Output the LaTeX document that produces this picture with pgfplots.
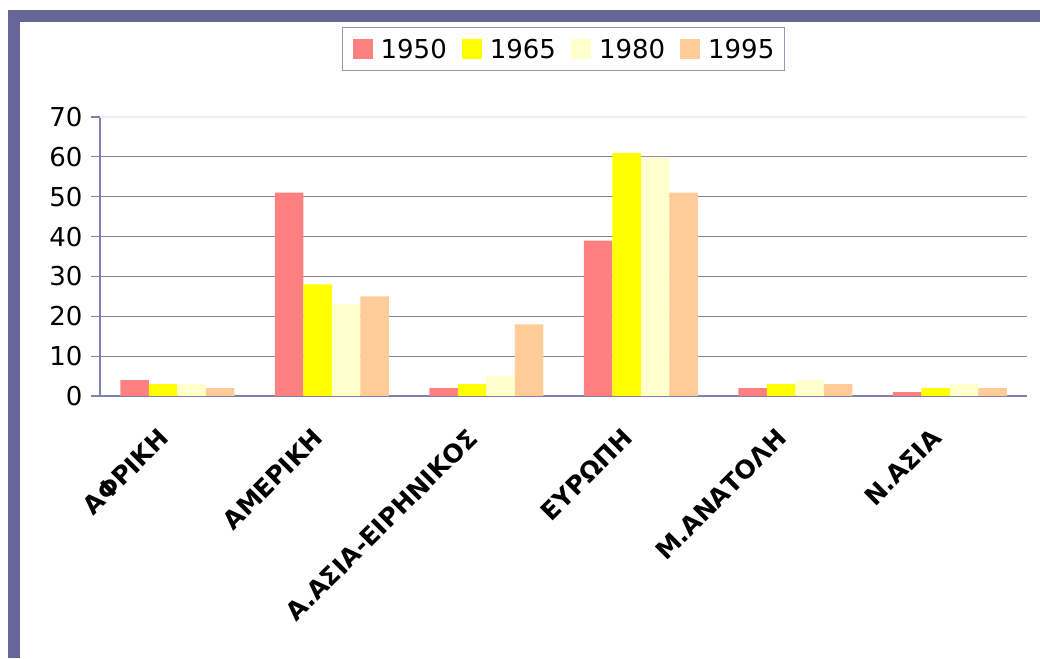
\documentclass[border=0pt]{standalone}
\usepackage{pgfplots}
\pgfplotsset{compat=1.18}
\usepackage{fontspec}
\setmainfont{DejaVu Sans}
\definecolor{framec}{HTML}{666699}
\definecolor{gridc}{HTML}{8080B0}
\definecolor{legc}{HTML}{9999C0}
\definecolor{c50}{HTML}{FF8080}
\definecolor{c65}{HTML}{FFFF00}
\definecolor{c80}{HTML}{FFFFCC}
\definecolor{c95}{HTML}{FFCC99}

\begin{document}
\begin{tikzpicture}
\useasboundingbox (0pt,0pt) rectangle (1040pt,658pt);
% slide frame
\fill[framec] (8pt,0pt) rectangle (1040pt,648pt);
\fill[white] (20pt,0pt) rectangle (1040pt,636pt);
\begin{axis}[
  at={(100pt,262pt)}, anchor=south west,
  scale only axis, width=927pt, height=279pt,
  xmin=-0.5, xmax=5.5, ymin=0, ymax=70,
  ybar=0pt, bar width=28.5pt,
  axis x line*=bottom, axis y line*=left,
  axis line style={gridc, line width=1.2pt},
  ytick={0,10,...,60},
  extra y ticks={70},
  extra y tick style={major grid style={gridc!12, line width=1.2pt}},
  ymajorgrids,
  major grid style={gridc, line width=1.2pt},
  tick align=outside,
  major tick length=9pt,
  ytick style={gridc, line width=1.2pt},
  xtick={0,...,5},
  xtick style={draw=none},
  minor xtick={-0.5,0.5,...,5.5},
  minor tick length=9pt,
  minor x tick style={gridc, line width=1.2pt},
  xticklabels={ΑΦΡΙΚΗ, ΑΜΕΡΙΚΗ, Α.ΑΣΙΑ-ΕΙΡΗΝΙΚΟΣ, ΕΥΡΩΠΗ, Μ.ΑΝΑΤΟΛΗ, Ν.ΑΣΙΑ},
  xticklabel style={xshift=-11pt, yshift=-26pt, rotate=45, anchor=east,
    font=\bfseries\fontsize{25}{25}\selectfont},
  yticklabel style={xshift=-5pt, font=\fontsize{26}{26}\selectfont},
  /pgf/number format/assume math mode=true,
  legend columns=4,
  legend style={at={(0.5,1)}, anchor=south, yshift=46pt,
    draw=legc, line width=1pt, inner xsep=10pt, inner ysep=11pt,
    font=\fontsize{26}{26}\selectfont,
    nodes={inner sep=0pt},
    /tikz/every odd column/.append style={column sep=8pt},
    /tikz/every even column/.append style={column sep=15pt}},
  legend image code/.code={\fill[#1] (0pt,-10pt) rectangle (20pt,10pt);},
]
\addplot[fill=c50, draw=none] coordinates {(0,4) (1,51) (2,2) (3,39) (4,2) (5,1)};
\addplot[fill=c65, draw=none] coordinates {(0,3) (1,28) (2,3) (3,61) (4,3) (5,2)};
\addplot[fill=c80, draw=none] coordinates {(0,3) (1,23) (2,5) (3,60) (4,4) (5,3)};
\addplot[fill=c95, draw=none] coordinates {(0,2) (1,25) (2,18) (3,51) (4,3) (5,2)};
\legend{1950, 1965, 1980, 1995}
\end{axis}
\end{tikzpicture}
\end{document}
